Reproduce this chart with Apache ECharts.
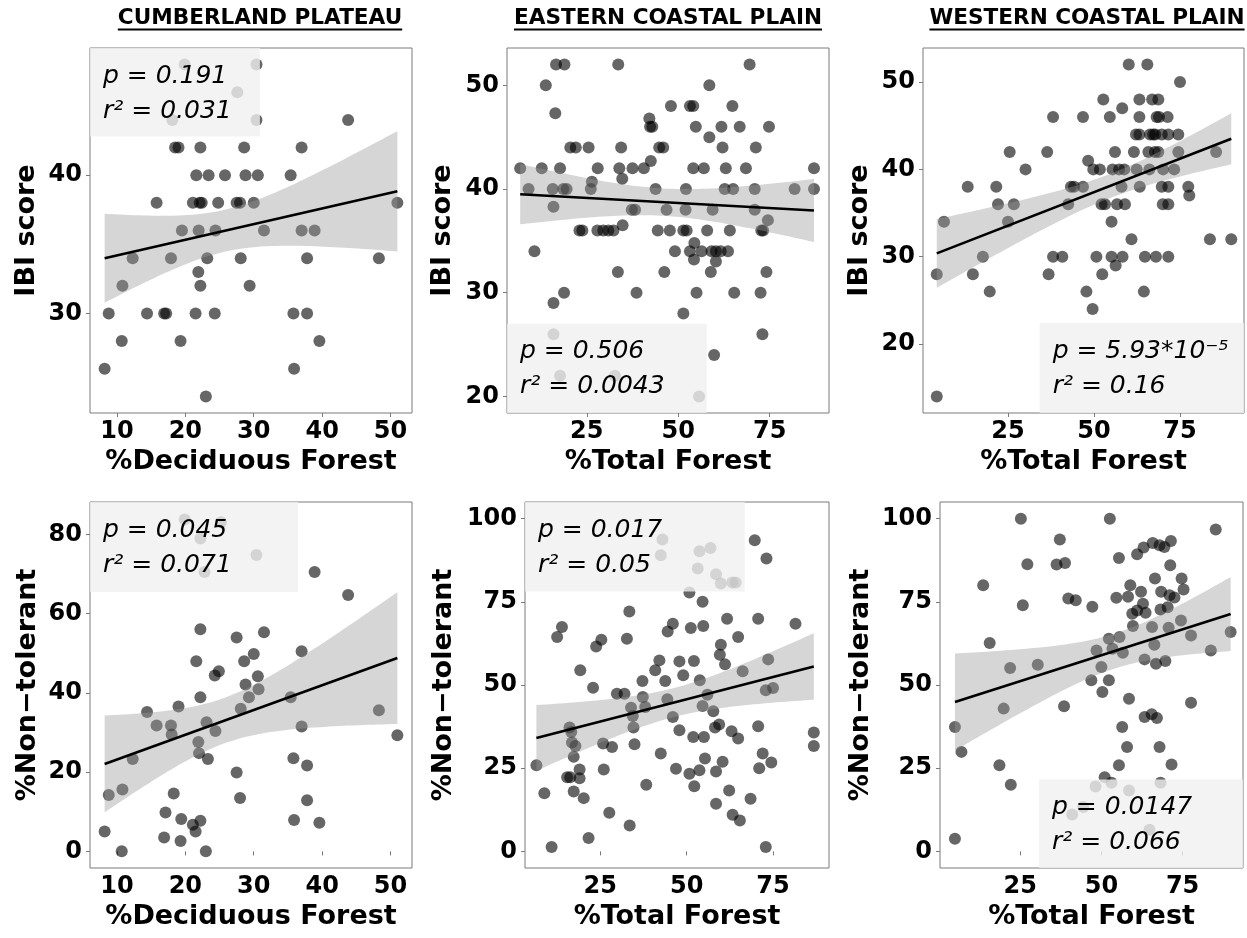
<!DOCTYPE html>
<html>
<head>
<meta charset="utf-8">
<script src="https://cdn.jsdelivr.net/npm/echarts@6/dist/echarts.min.js"></script>
<style>
    html, body {margin: 0; padding: 0; background: #fff;}
    #chartBox {width: 1247px; height: 938px;}
</style>
</head>
<body>
<div id="chartBox"></div>
<script>
// site points, [x, y]
var cpIbi = [[19.9,48],[30.4,48],[27.6,46],[30.4,44],[18.1,44],[43.8,44],[18.5,42],[19.0,42],[22.2,42],[28.6,42],[37.0,42],
    [21.6,40],[23.4,40],[25.8,40],[28.8,40],[30.6,40],[35.4,40],[15.8,38],[21.1,38],[22.1,38],[22.4,38],[24.8,38],[27.5,38],
    [28.0,38],[30.0,38],[51.0,38],[19.5,36],[21.95,36],[24.4,36],[31.5,36],[37.0,36],[38.9,36],[12.3,34],[17.9,34],[23.2,34],
    [28.1,34],[37.8,34],[48.3,34],[21.9,33],[10.8,32],[22.2,32],[29.4,32],[8.8,30],[14.4,30],[16.9,30],[17.2,30],[21.5,30],
    [24.3,30],[35.8,30],[37.8,30],[10.7,28],[19.3,28],[39.6,28],[8.2,26],[35.9,26],[23.0,24]];
var ecIbi = [[16.6,52],[18.9,52],[33.6,52],[69.5,52],[13.8,50],[58.5,50],[16.4,47.3],[48.0,48],[53.2,48],[54.1,48],[64.8,48],
    [42.1,46.8],[42.3,46],[42.9,46],[54.8,46],[61.8,46],[66.8,46],[74.8,46],[58.5,45],[20.5,44],[22.0,44],[25.5,44],[34.4,44],
    [44.8,44],[45.9,44],[62.1,44],[71.2,44],[42.5,42.7],[6.8,42],[12.7,42],[17.7,42],[28.0,42],[33.9,42],[37.5,42],[40.6,42],
    [54.1,42],[57.0,42],[63.0,42],[68.5,42],[87.1,42],[34.7,41],[26.4,40.7],[9.1,40],[15.7,40],[18.6,40],[19.5,40],[26.1,40],
    [43.8,40],[52.1,40],[62.7,40],[65.0,40],[70.9,40],[81.8,40],[87.1,40],[15.9,38.3],[37.3,38],[38.2,38],[46.8,38],[52.0,38],
    [59.4,38],[70.9,38],[74.5,37],[34.8,36.5],[23.0,36],[23.8,36],[27.9,36],[29.5,36],[30.9,36],[32.3,36],[44.4,36],[47.7,36],
    [51.4,36],[52.3,36],[57.9,36],[64.1,36],[72.7,36],[73.2,36],[54.4,34.8],[10.7,34],[49.1,34],[53.2,34],[56.4,34],[59.1,34],
    [60.3,34],[61.6,34],[63.6,34],[54.3,33.2],[60.3,33],[33.5,32],[46.2,32],[58.9,32],[74.1,32],[18.8,30],[38.6,30],[55.0,30],
    [65.3,30],[72.5,30],[15.9,29],[51.4,28],[73.0,26],[15.9,26],[59.8,24],[17.7,22],[32.7,22],[55.7,20]];
var wcIbi = [[60.1,52],[65.5,52],[75,50],[52.7,48],[63.2,48],[66.9,48],[68.7,48],[58.2,47],[38.1,46],[46.8,46],[54.6,46],
    [63.2,46],[68.2,46],[68.9,46],[71.4,46],[62.2,44],[63.2,44],[66.3,44],[67.2,44],[67.8,44],[69.7,44],[71.6,44],[74.5,44],
    [25.5,42],[36.4,42],[56.1,42],[61.6,42],[65.8,42],[67.7,42],[68.7,42],[74.5,42],[85.5,42],[48.3,41],[30.1,40],[49.8,40],
    [51.7,40],[55.4,40],[57.3,40],[58.8,40],[62.4,40],[66.1,40],[70.1,40],[73.3,40],[13.3,38],[21.6,38],[43.3,38],[44.2,38],
    [46.8,38],[58.0,38],[63.3,38],[69.7,38],[71.6,38],[77.4,38],[77.7,37],[22.1,36],[26.7,36],[42.5,36],[52.2,36],[53.2,36],
    [56.7,36],[59.0,36],[70.0,36],[71.6,36],[6.4,34],[25.0,34],[55.1,34],[60.9,32],[83.7,32],[89.9,32],[17.7,30],[38.1,30],
    [40.8,30],[50.7,30],[55.1,30],[58.3,30],[64.8,30],[68.0,30],[71.6,30],[56.3,29],[4.3,28],[14.8,28],[36.8,28],[52.4,28],
    [19.7,26],[47.8,26],[64.5,26],[49.6,24],[4.3,14]];
var cpNon = [[19.9,83.8],[25.2,83.1],[22.2,79],[30.4,74.8],[22.8,70.5],[38.9,70.5],[43.8,64.7],[22.2,56.1],[27.5,54],[31.5,55.3],
    [37.0,50.5],[21.6,48],[28.6,48],[30.0,49.8],[24.3,44.4],[24.9,45.5],[28.8,42.1],[30.6,44.2],[30.7,40.9],[29.3,38.9],[22.2,38.9],
    [19.0,36.6],[28.1,36],[35.4,38.9],[48.3,35.6],[14.4,35.2],[15.8,31.8],[17.9,31.8],[18.0,29.5],[23.1,32.6],[24.4,30.4],[37.0,31.5],
    [21.9,27.6],[22.0,24.8],[23.3,23.3],[12.3,23.3],[35.8,23.5],[37.8,21.7],[27.5,19.9],[51.0,29.3],[8.8,14.2],[10.8,15.6],[18.3,14.6],
    [28.0,13.5],[37.8,12.9],[17.1,9.8],[19.4,8.2],[22.2,7.7],[21.1,6.7],[21.5,5.0],[35.9,7.9],[39.6,7.2],[8.2,5],[16.9,3.5],[19.3,2.6],
    [10.7,0],[23.0,0]];
var ecNon = [[43.0,93.7],[42.5,89],[53.7,90.2],[56.9,91.2],[69.7,93.5],[73.1,88],[53.2,85],[58.5,83.3],[59.9,80.5],[63.2,80.8],
    [64.2,80.8],[50.8,77.8],[54.6,75],[33.4,72.1],[46.0,68.4],[44.5,66.1],[51.2,67.1],[54.8,67.7],[61.7,69.9],[70.7,69.9],[81.5,68.4],
    [13.9,67.4],[12.5,64.4],[25.3,63.6],[23.8,61.6],[32.7,63.9],[64.9,64.4],[59.9,62.1],[59.6,59.1],[61.1,56.2],[42.1,57.4],[40.9,54.4],
    [43.8,51.2],[47.9,57.1],[49.0,52.9],[52.1,57.2],[53.8,51.4],[37.2,51.2],[19.2,54.4],[22.9,49.2],[29.8,47.4],[32.0,47.4],[66.2,54.1],
    [73.6,57.7],[72.9,48.4],[75.0,49.1],[37.3,46.4],[44.4,45.7],[38.0,43.4],[33.9,43.2],[34.4,40.7],[34.6,37.2],[56.0,47.1],[54.6,43.7],
    [57.7,42.1],[46.0,40.4],[47.9,36.4],[58.2,37.2],[59.4,38.1],[63.0,36.1],[64.9,33.9],[70.7,37.6],[86.8,35.7],[86.8,31.7],[51.9,34.4],
    [55.0,34.4],[16.1,37.2],[16.6,35.9],[16.8,32.7],[17.8,31.7],[17.3,28.4],[25.8,32.4],[28.4,31.4],[34.9,32.2],[42.5,29.4],[55.3,27.9],
    [60.4,26.9],[72.0,29.4],[74.5,26.7],[6.5,25.9],[8.8,17.5],[15.4,22.3],[16.3,22.3],[19.0,24.6],[19.0,22.0],[17.3,18.0],[20.2,16.0],
    [26.0,24.6],[38.3,20.0],[46.9,24.8],[50.8,23.3],[52.2,19.6],[53.7,24.4],[58.5,24.0],[58.5,14.3],[62.3,18.3],[63.3,11.0],[65.4,9.3],
    [68.5,15.8],[71.0,25.0],[27.6,11.6],[21.6,4.0],[33.5,7.8],[10.9,1.3],[72.9,1.3]];
var wcNon = [[25.2,100],[52.6,100],[85.2,96.7],[37.2,93.7],[71.4,93.3],[65.8,92.7],[67.9,92.0],[69.4,91.5],[63.0,91.3],[61.0,89.3],
    [36.2,86.2],[38.8,86.7],[27.2,86.3],[55.4,88.2],[71.2,86.0],[13.6,80],[66.5,82],[58.9,80],[74.7,82],[75.3,78.7],[68.4,78],
    [72.5,76.3],[71.0,77],[58.2,76.5],[54.6,76.2],[62.2,78],[39.8,76],[42.1,75.5],[47.2,73.5],[25.8,74],[62.8,74.4],[59.5,71.4],
    [61.0,72.4],[63.6,71.7],[68.2,72.7],[70.4,73.4],[74.5,69.4],[70.7,67.2],[59.7,67.7],[65.6,67.4],[77.6,64.9],[89.8,65.9],[52.3,63.9],
    [55.6,64.4],[66.3,62.1],[83.7,60.4],[48.5,60.4],[53.4,60.9],[56.6,59.7],[15.6,62.6],[21.9,55.1],[30.4,56.1],[50.0,55.4],[63.3,57.7],
    [66.8,56.4],[69.7,57.2],[46.9,51.4],[52.3,51.4],[50.3,47.9],[19.9,42.9],[38.5,43.6],[58.5,45.9],[77.6,44.7],[63.3,40.4],[65.5,41.2],
    [67.1,40.1],[56.4,37.4],[4.9,37.4],[6.9,29.9],[57.9,31.4],[67.9,31.4],[18.6,25.9],[55.4,25.9],[71.6,26.1],[22.1,20.0],[51.0,22.3],
    [53.1,20.6],[48.2,19.5],[58.5,18.3],[68.2,20.6],[44.4,13.3],[41.0,11.1],[64.8,6.5],[4.9,3.8]];

var regions = ['CUMBERLAND PLATEAU', 'EASTERN COASTAL PLAIN', 'WESTERN COASTAL PLAIN'];
var xNames = ['%Deciduous Forest', '%Total Forest', '%Total Forest', '%Deciduous Forest', '%Total Forest', '%Total Forest'];
var yNames = ['IBI score', 'IBI score', 'IBI score', '%Non\u2212tolerant', '%Non\u2212tolerant', '%Non\u2212tolerant'];
var pText = ['p = 0.191', 'p = 0.506', 'p = 5.93*10\u207B\u2075', 'p = 0.045', 'p = 0.017', 'p = 0.0147'];
var rText = ['r\u00B2 = 0.031', 'r\u00B2 = 0.0043', 'r\u00B2 = 0.16', 'r\u00B2 = 0.071', 'r\u00B2 = 0.05', 'r\u00B2 = 0.066'];
var xTicks = [[10, 20, 30, 40, 50], [25, 50, 75], [25, 50, 75], [10, 20, 30, 40, 50], [25, 50, 75], [25, 50, 75]];
var yTicks = [[30, 40], [20, 30, 40, 50], [20, 30, 40, 50], [0, 20, 40, 60, 80], [0, 25, 50, 75, 100], [0, 25, 50, 75, 100]];
var xRanges = [[6.06, 53.14], [3.2, 91.2], [0.3, 93.6], [6.06, 53.14], [3.2, 91.2], [0.3, 93.6]];
var yRanges = [[22.8, 49.2], [18.4, 53.6], [12.1, 53.9], [-4.2, 88.2], [-5, 105], [-5, 105]];
// stat label boxes in data units [x1, x2, y1, y2], null = panel edge
var boxes = [[null, 30.9, 42.8, null], [null, 57.8, null, 27.0], [34.2, null, null, 22.4],
    [null, 36.5, 65.5, null], [null, 66.8, 78.1, null], [30.8, null, null, 21.6]];

var panels = [cpIbi, ecIbi, wcIbi, cpNon, ecNon, wcNon];
var gridPos = [[90, 48, 322, 365], [507, 48, 322, 365], [923, 48, 321, 365],
    [90, 502, 322, 366], [525, 502, 304, 366], [940, 502, 303, 366]];
var yGap = [50, 51, 50, 49, 68, 66];
var titleX = [260, 668, 1087];
var FONT = '"DejaVu Sans", "Liberation Sans", sans-serif';

var myChart = echarts.init(document.getElementById('chartBox'));

// least squares fit + 95% band, like geom_smooth(method = lm)
function fitLine(pts) {
    var n = pts.length, mx = 0, my = 0, sxx = 0, sxy = 0, sse = 0;
    var xmin = Infinity, xmax = -Infinity;
    for (var i = 0; i < n; i++) {
        mx += pts[i][0] / n;
        my += pts[i][1] / n;
        xmin = Math.min(xmin, pts[i][0]);
        xmax = Math.max(xmax, pts[i][0]);
    }
    for (var i = 0; i < n; i++) {
        sxx += (pts[i][0] - mx) * (pts[i][0] - mx);
        sxy += (pts[i][0] - mx) * (pts[i][1] - my);
    }
    var b = sxy / sxx, a = my - b * mx;
    for (var i = 0; i < n; i++) {
        var r = pts[i][1] - (a + b * pts[i][0]);
        sse += r * r;
    }
    var df = n - 2;
    return {a: a, b: b, n: n, mx: mx, sxx: sxx, s: Math.sqrt(sse / df), t: 1.96 + 2.37 / df, xmin: xmin, xmax: xmax};
}

function textWidth(txt, font) {
    var ctx = document.createElement('canvas').getContext('2d');
    ctx.font = font;
    return ctx.measureText(txt).width;
}

var grids = [], xAxes = [], yAxes = [], series = [], graphics = [];

for (var i = 0; i < panels.length; i++) {
    var g = gridPos[i];
    grids.push({left: g[0], top: g[1], width: g[2], height: g[3], show: true,
        borderColor: '#7a7a7a', borderWidth: 1, backgroundColor: '#fff'});
    xAxes.push({
        gridIndex: i, type: 'value', min: xRanges[i][0], max: xRanges[i][1],
        splitLine: {show: false}, axisLine: {show: false},
        axisTick: {show: true, length: 4, lineStyle: {color: '#7a7a7a'}, customValues: xTicks[i]},
        axisLabel: {customValues: xTicks[i], fontSize: 24, fontWeight: 'bold', fontFamily: FONT, color: '#000', margin: 7},
        name: xNames[i], nameLocation: 'middle', nameGap: 35,
        nameTextStyle: {fontSize: 27, fontWeight: 'bold', fontFamily: FONT, color: '#000'}
    });
    yAxes.push({
        gridIndex: i, type: 'value', min: yRanges[i][0], max: yRanges[i][1],
        splitLine: {show: false}, axisLine: {show: false},
        axisTick: {show: true, length: 4, lineStyle: {color: '#7a7a7a'}, customValues: yTicks[i]},
        axisLabel: {customValues: yTicks[i], fontSize: 24, fontWeight: 'bold', fontFamily: FONT, color: '#000', margin: 8},
        name: yNames[i], nameLocation: 'middle', nameGap: yGap[i],
        nameTextStyle: {fontSize: 27, fontWeight: 'bold', fontFamily: FONT, color: '#000'}
    });

    series.push({
        type: 'scatter', xAxisIndex: i, yAxisIndex: i, data: panels[i], symbolSize: 12, z: 2,
        itemStyle: {color: 'rgba(0,0,0,0.75)'}, silent: true
    });

    var fit = fitLine(panels[i]);
    series.push({
        type: 'custom', xAxisIndex: i, yAxisIndex: i, z: 3, silent: true, clip: false,
        data: [[fit.xmin, fit.a + fit.b * fit.xmin]],
        renderItem: (function (f) {
            return function (params, api) {
                var up = [], lo = [];
                for (var k = 0; k <= 60; k++) {
                    var x = f.xmin + (f.xmax - f.xmin) * k / 60;
                    var yh = f.a + f.b * x;
                    var se = f.s * Math.sqrt(1 / f.n + (x - f.mx) * (x - f.mx) / f.sxx);
                    up.push(api.coord([x, yh + f.t * se]));
                    lo.unshift(api.coord([x, yh - f.t * se]));
                }
                return {type: 'polygon', shape: {points: up.concat(lo)}, style: {fill: 'rgba(153,153,153,0.4)'}};
            };
        })(fit)
    });
    series.push({
        type: 'line', xAxisIndex: i, yAxisIndex: i, z: 5, silent: true, symbol: 'none',
        data: [[fit.xmin, fit.a + fit.b * fit.xmin], [fit.xmax, fit.a + fit.b * fit.xmax]],
        lineStyle: {color: '#000', width: 2.6}
    });

    var bx = boxes[i];
    series.push({
        type: 'custom', xAxisIndex: i, yAxisIndex: i, z: 4, silent: true, clip: false,
        data: [[bx[0] == null ? xRanges[i][0] : bx[0], bx[1] == null ? xRanges[i][1] : bx[1],
            bx[2] == null ? yRanges[i][0] : bx[2], bx[3] == null ? yRanges[i][1] : bx[3]]],
        renderItem: (function (pt, rt) {
            return function (params, api) {
                var tl = api.coord([api.value(0), api.value(3)]);
                var br = api.coord([api.value(1), api.value(2)]);
                var font = 'italic 25px ' + FONT;
                return {
                    type: 'group', children: [
                        {type: 'rect', shape: {x: tl[0], y: tl[1], width: br[0] - tl[0], height: br[1] - tl[1]},
                            style: {fill: 'rgba(240,240,240,0.8)'}},
                        {type: 'text', x: tl[0] + 13, y: tl[1] + 28,
                            style: {text: pt, font: font, fill: '#000', align: 'left', verticalAlign: 'middle'}},
                        {type: 'text', x: tl[0] + 13, y: tl[1] + 63,
                            style: {text: rt, font: font, fill: '#000', align: 'left', verticalAlign: 'middle'}}
                    ]
                };
            };
        })(pText[i], rText[i])
    });
}

var titleFont = 'bold 21.6px ' + FONT;
for (var j = 0; j < regions.length; j++) {
    var w = textWidth(regions[j], titleFont);
    graphics.push({type: 'text', x: titleX[j], y: 18,
        style: {text: regions[j], font: titleFont, fill: '#000', align: 'center', verticalAlign: 'middle'}});
    graphics.push({type: 'line', shape: {x1: titleX[j] - w / 2, y1: 29.5, x2: titleX[j] + w / 2, y2: 29.5},
        style: {stroke: '#000', lineWidth: 2}});
}

var option = {
    animation: false,
    backgroundColor: '#fff',
    grid: grids,
    xAxis: xAxes,
    yAxis: yAxes,
    series: series,
    graphic: graphics
};
myChart.setOption(option);
</script>
</body>
</html>
